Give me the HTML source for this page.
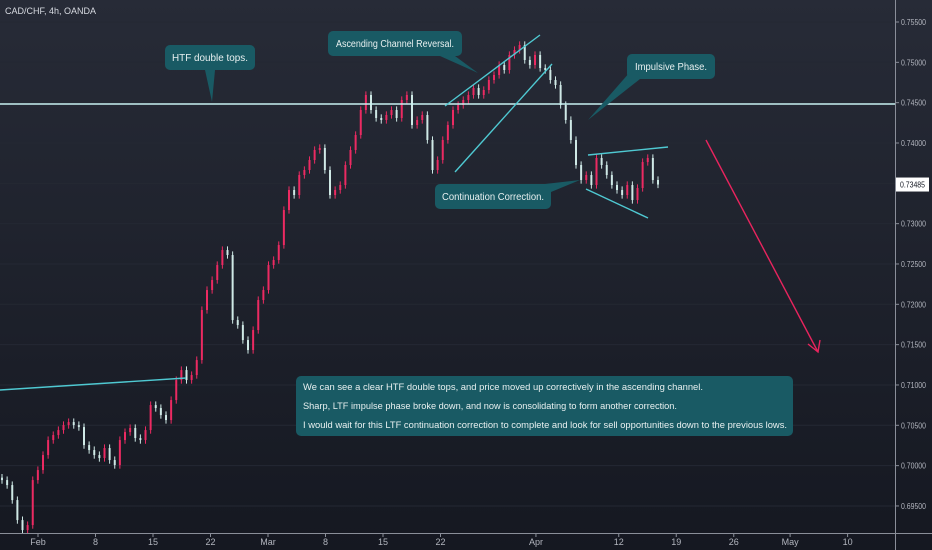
<!DOCTYPE html>
<html><head><meta charset="utf-8"><style>
html,body{margin:0;padding:0;width:932px;height:550px;overflow:hidden;background:#1d202a}
svg{display:block;font-family:"Liberation Sans",sans-serif}
</style></head><body>
<svg id="chart" width="932" height="550">
<defs><linearGradient id="bg" x1="0" y1="0" x2="0" y2="1"><stop offset="0" stop-color="#272b37"/><stop offset="1" stop-color="#151821"/></linearGradient></defs>
<rect width="932" height="550" fill="url(#bg)"/>
<g id="grid"></g>
<g id="candles"></g>
<g id="drawings">
<line x1="0" y1="104" x2="895" y2="104" stroke="#c8f2f2" stroke-width="1.6"/>
<line x1="0" y1="390" x2="186" y2="378" stroke="#4fc9d2" stroke-width="1.4"/>
<line x1="445" y1="106" x2="540" y2="35" stroke="#4fc9d2" stroke-width="1.4"/>
<line x1="455" y1="172" x2="552" y2="64" stroke="#4fc9d2" stroke-width="1.4"/>
<line x1="588" y1="155" x2="668" y2="147" stroke="#4fc9d2" stroke-width="1.4"/>
<line x1="586" y1="189" x2="648" y2="218" stroke="#4fc9d2" stroke-width="1.4"/>
<g stroke="#e8245e" stroke-width="1.4" fill="none">
<line x1="706" y1="140" x2="818" y2="352"/><polyline points="808,344 818,352 820,340"/></g>
</g>
<g><polygon points="205,70 215,70 212,102" fill="#195a64"/><rect x="165" y="45" width="90" height="25" rx="5" fill="#195a64"/><text x="210" y="61" fill="#e8f0f0" font-size="10" text-anchor="middle" textLength="76" lengthAdjust="spacingAndGlyphs">HTF double tops.</text></g>
<g><polygon points="440,56 455,56 478,73" fill="#195a64"/><rect x="328" y="31" width="134" height="25" rx="5" fill="#195a64"/><text x="395" y="47" fill="#e8f0f0" font-size="10" text-anchor="middle" textLength="118" lengthAdjust="spacingAndGlyphs">Ascending Channel Reversal.</text></g>
<g><polygon points="630,72 640,79 588,120" fill="#195a64"/><rect x="627" y="54" width="88" height="25" rx="5" fill="#195a64"/><text x="671" y="70" fill="#e8f0f0" font-size="10" text-anchor="middle" textLength="72" lengthAdjust="spacingAndGlyphs">Impulsive Phase.</text></g>
<g><polygon points="530,184 545,184 580,180 551,192" fill="#195a64"/><rect x="435" y="184" width="116" height="25" rx="5" fill="#195a64"/><text x="493" y="200" fill="#e8f0f0" font-size="10" text-anchor="middle" textLength="102" lengthAdjust="spacingAndGlyphs">Continuation Correction.</text></g>
<g><rect x="296" y="376" width="497" height="60" rx="5" fill="#195a64"/>
<text x="303" y="390" fill="#e8f0f0" font-size="9.5" textLength="400" lengthAdjust="spacingAndGlyphs">We can see a clear HTF double tops, and price moved up correctively in the ascending channel.</text>
<text x="303" y="409" fill="#e8f0f0" font-size="9.5" textLength="374" lengthAdjust="spacingAndGlyphs">Sharp, LTF impulse phase broke down, and now is consolidating to form another correction.</text>
<text x="303" y="428" fill="#e8f0f0" font-size="9.5" textLength="484" lengthAdjust="spacingAndGlyphs">I would wait for this LTF continuation correction to complete and look for sell opportunities down to the previous lows.</text></g>
<text x="5" y="14" fill="#d8dbe2" font-size="9">CAD/CHF, 4h, OANDA</text>
<line x1="895.5" y1="0" x2="895.5" y2="550" stroke="#8a8e99" stroke-width="1"/>
<line x1="0" y1="533.5" x2="932" y2="533.5" stroke="#8a8e99" stroke-width="1"/>
<g id="yaxis"></g>
<g id="xaxis"></g>
</svg>
<script>
const closes=[.69821,.69759,.69573,.69325,.69201,.69263,.69821,.69945,.70131,.70317,.70379,.70441,.70503,.70540,.70503,.70478,.70255,.70193,.70131,.70094,.70218,.70069,.70007,.70317,.70416,.70466,.70342,.70317,.70441,.70751,.70714,.70627,.70565,.70813,.71061,.71185,.71061,.71123,.71309,.71929,.72177,.72301,.72487,.72673,.72611,.71805,.71743,.71557,.71433,.71681,.72053,.72177,.72487,.72549,.72735,.73169,.73417,.73355,.73603,.73665,.73789,.73913,.73938,.73665,.73355,.73417,.73479,.73727,.73913,.74099,.74409,.74595,.74409,.74310,.74285,.74347,.74409,.74310,.74533,.74595,.74223,.74285,.74347,.74037,.73665,.73789,.74037,.74223,.74409,.74471,.74533,.74595,.74682,.74595,.74657,.74781,.74843,.74967,.74905,.75091,.75153,.75215,.75029,.74967,.75091,.74930,.74905,.74781,.74719,.74471,.74285,.74037,.73727,.73541,.73603,.73479,.73814,.73727,.73603,.73479,.73417,.73355,.73479,.73293,.73442,.73764,.73814,.73541,.73485];
const priceTicks=[0.755,0.75,0.745,0.74,0.735,0.73,0.725,0.72,0.715,0.71,0.705,0.70,0.695];
const dateLabels=["Feb","8","15","22","Mar","8","15","22","Apr","12","19","26","May","10"];
const dateDayIdx=[0,5,10,15,20,25,30,35,43.3,50.5,55.5,60.5,65.4,70.4];
const NS="http://www.w3.org/2000/svg";
const y=p=>22+(0.755-p)*8066;
const x=i=>2+i*(656/(closes.length-1));
const xd=d=>38+d*11.5;
function mk(t,a,parent){const e=document.createElementNS(NS,t);for(const k in a)e.setAttribute(k,a[k]);parent.appendChild(e);return e;}
const grid=document.getElementById('grid');
priceTicks.forEach(p=>{const l=mk('line',{x1:0,x2:895,y1:y(p),y2:y(p),stroke:'#242833','stroke-width':1},grid);

});
const cg=document.getElementById('candles');
closes.forEach((c,i)=>{const o=i?closes[i-1]:c+0.0003;const up=c>=o;const col=up?'#ec2a62':'#cfe9e6';
const hi=Math.max(o,c)+0.00045,lo=Math.min(o,c)-0.00045;
const w=mk('line',{x1:x(i),x2:x(i),y1:y(hi),y2:y(lo),stroke:col,'stroke-width':1},cg);


const b=mk('rect',{x:x(i)-1,width:2,y:y(Math.max(o,c)),height:Math.max(1,y(Math.min(o,c))-y(Math.max(o,c))),fill:col},cg);

});
const ya=document.getElementById('yaxis');
priceTicks.forEach(p=>{const t=mk('text',{x:901,y:y(p)+3,fill:'#b2b5be','font-size':8.5,textLength:25,lengthAdjust:'spacingAndGlyphs'},ya);t.textContent=p.toFixed(5);


mk('line',{x1:895,x2:899,y1:y(p),y2:y(p),stroke:'#8a8e99'},ya);});
const last=closes[closes.length-1];
const lb=mk('rect',{x:896,y:y(last)-7,width:33,height:14,fill:'#ffffff'},ya);


const lt=mk('text',{x:900,y:y(last)+3,fill:'#131722','font-size':8.5,textLength:25,lengthAdjust:'spacingAndGlyphs'},ya);lt.textContent=last.toFixed(5);


const xa=document.getElementById('xaxis');
dateLabels.forEach((d,i)=>{const xx=xd(dateDayIdx[i]);const t=mk('text',{x:xx,y:545,fill:'#b2b5be','font-size':9,'text-anchor':'middle'},xa);t.textContent=d;


mk('line',{x1:xx,x2:xx,y1:533,y2:537,stroke:'#8a8e99'},xa);});
</script>
</body></html>
